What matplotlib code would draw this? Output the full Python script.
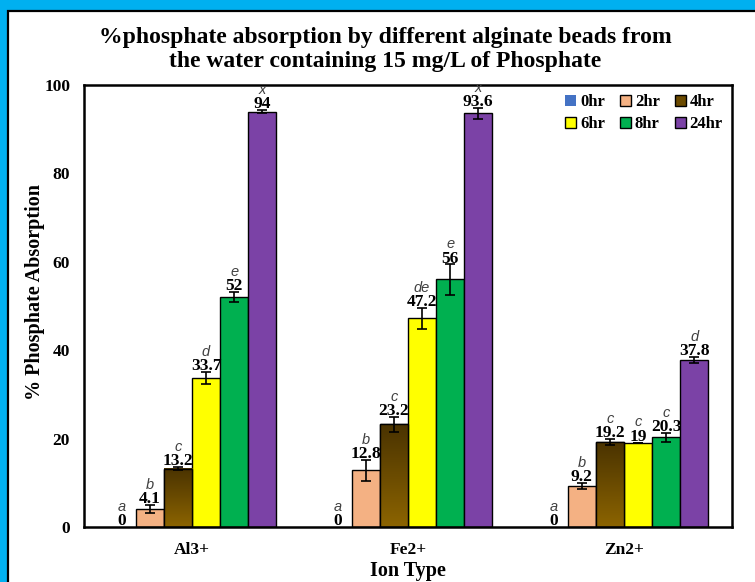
import matplotlib
matplotlib.use('Agg')
import matplotlib.pyplot as plt
import numpy as np
from matplotlib.patches import Rectangle
from matplotlib.colors import LinearSegmentedColormap

ions = ['Al3+', 'Fe2+', 'Zn2+']
times = ['0hr', '2hr', '4hr', '6hr', '8hr', '24hr']

# % absorption per ion, one value per time point
al3 = [0, 4.1, 13.2, 33.7, 52, 94]
fe2 = [0, 12.8, 23.2, 47.2, 56, 93.6]
zn2 = [0, 9.2, 19.2, 19, 20.3, 37.8]

al3_err = [0, 0.9, 0.3, 1.3, 1.2, 0.3]
fe2_err = [0, 2.3, 1.6, 2.4, 3.4, 1.2]
zn2_err = [0, 0.7, 0.7, 0.1, 1.0, 0.7]

al3_sig = ['a', 'b', 'c', 'd', 'e', 'x']
fe2_sig = ['a', 'b', 'c', 'de', 'e', 'x']
zn2_sig = ['a', 'b', 'c', 'c', 'c', 'd']

values = np.array([al3, fe2, zn2])
errors = np.array([al3_err, fe2_err, zn2_err])
letters = [al3_sig, fe2_sig, zn2_sig]

colors = ['#4472C4', '#F4B183', '#6B4A00', '#FFFF00', '#00B050', '#7B42A6']
brown = LinearSegmentedColormap.from_list('brown', ['#8C6400', '#4A3300'])

serif = 'Liberation Serif'

fig = plt.figure(figsize=(7.55, 5.82), dpi=100, facecolor='#00B0F0')
# white panel with black border
fig.patches.append(Rectangle((8, -20), 800, 582 - 11 + 20, transform=None,
                             facecolor='white', edgecolor='black', linewidth=1.6,
                             zorder=-5))

ax = fig.add_axes([84 / 755, 1 - 527 / 582, 648 / 755, 442 / 582])

x = np.arange(len(ions))
w = 0.13
containers = []
for j, t in enumerate(times):
    pos = x + (j - 2.5) * w
    ec = 'none' if j == 0 else 'black'
    bars = ax.bar(pos, values[:, j], w, color=colors[j], edgecolor=ec,
                  linewidth=1.0, zorder=2, label=t)
    containers.append(bars)
    if t == '4hr':
        for b in bars:
            x0, h = b.get_x(), b.get_height()
            grad = np.linspace(0, 1, 256).reshape(-1, 1)
            ax.imshow(grad, extent=(x0, x0 + w, 0, h), origin='lower',
                      cmap=brown, aspect='auto', zorder=2.1)
        ax.bar(pos, values[:, j], w, color='none', edgecolor='black',
               linewidth=1.0, zorder=2.2)
    m = values[:, j] > 0
    ax.errorbar(pos[m], values[m, j], yerr=errors[m, j], fmt='none',
                ecolor='black', elinewidth=1.2, capsize=3.5, capthick=1.2, zorder=3)
    for i in range(len(ions)):
        top = values[i, j] + errors[i, j]
        ax.annotate(f'{values[i, j]:g}', (pos[i], top), xytext=(0, -1.5),
                    textcoords='offset points', ha='center', va='bottom',
                    fontsize=12.5, fontweight='bold', family=serif, zorder=4)
        ax.annotate(letters[i][j], (pos[i], top), xytext=(0, 9.5),
                    textcoords='offset points', ha='center', va='bottom',
                    fontsize=10.5, style='italic', family='Liberation Sans',
                    color='#404040', zorder=4)

ax.set_xlim(-0.5, 2.5)
ax.set_ylim(0, 100)
ax.set_yticks([0, 20, 40, 60, 80, 100])
ax.set_xticks(x)
ax.set_xticklabels(ions)
ax.tick_params(axis='both', length=0)
ax.tick_params(axis='y', pad=10)
ax.tick_params(axis='x', pad=11)
for lab in ax.get_xticklabels() + ax.get_yticklabels():
    lab.set_family(serif)
    lab.set_fontweight('bold')
    lab.set_fontsize(12.5)
for s in ax.spines.values():
    s.set_linewidth(1.8)

ax.set_xlabel('Ion Type', family=serif, fontweight='bold', fontsize=14.5, labelpad=2)
ax.set_ylabel('% Phosphate Absorption', family=serif, fontweight='bold', fontsize=14.5)
ax.yaxis.set_label_coords(-0.060, 0.532)

fig.text(385 / 755, 1 - 38 / 582,
         '%phosphate absorption by different alginate beads from',
         ha='center', va='center', family=serif, fontweight='bold', fontsize=17)
fig.text(385 / 755, 1 - 62 / 582,
         'the water containing 15 mg/L of Phosphate',
         ha='center', va='center', family=serif, fontweight='bold', fontsize=17)

order = [0, 3, 1, 4, 2, 5]
h = [containers[k] for k in order]
lbl = [times[k] for k in order]
ax.legend(h, lbl, ncol=3, loc='upper right', bbox_to_anchor=(1.009, 1.013),
          frameon=False, prop={'family': serif, 'weight': 'bold', 'size': 12},
          handlelength=0.65, handleheight=0.65, handletextpad=0.25,
          columnspacing=0.9, labelspacing=0.35)

fig.savefig('out.png', dpi=100, facecolor=fig.get_facecolor())
